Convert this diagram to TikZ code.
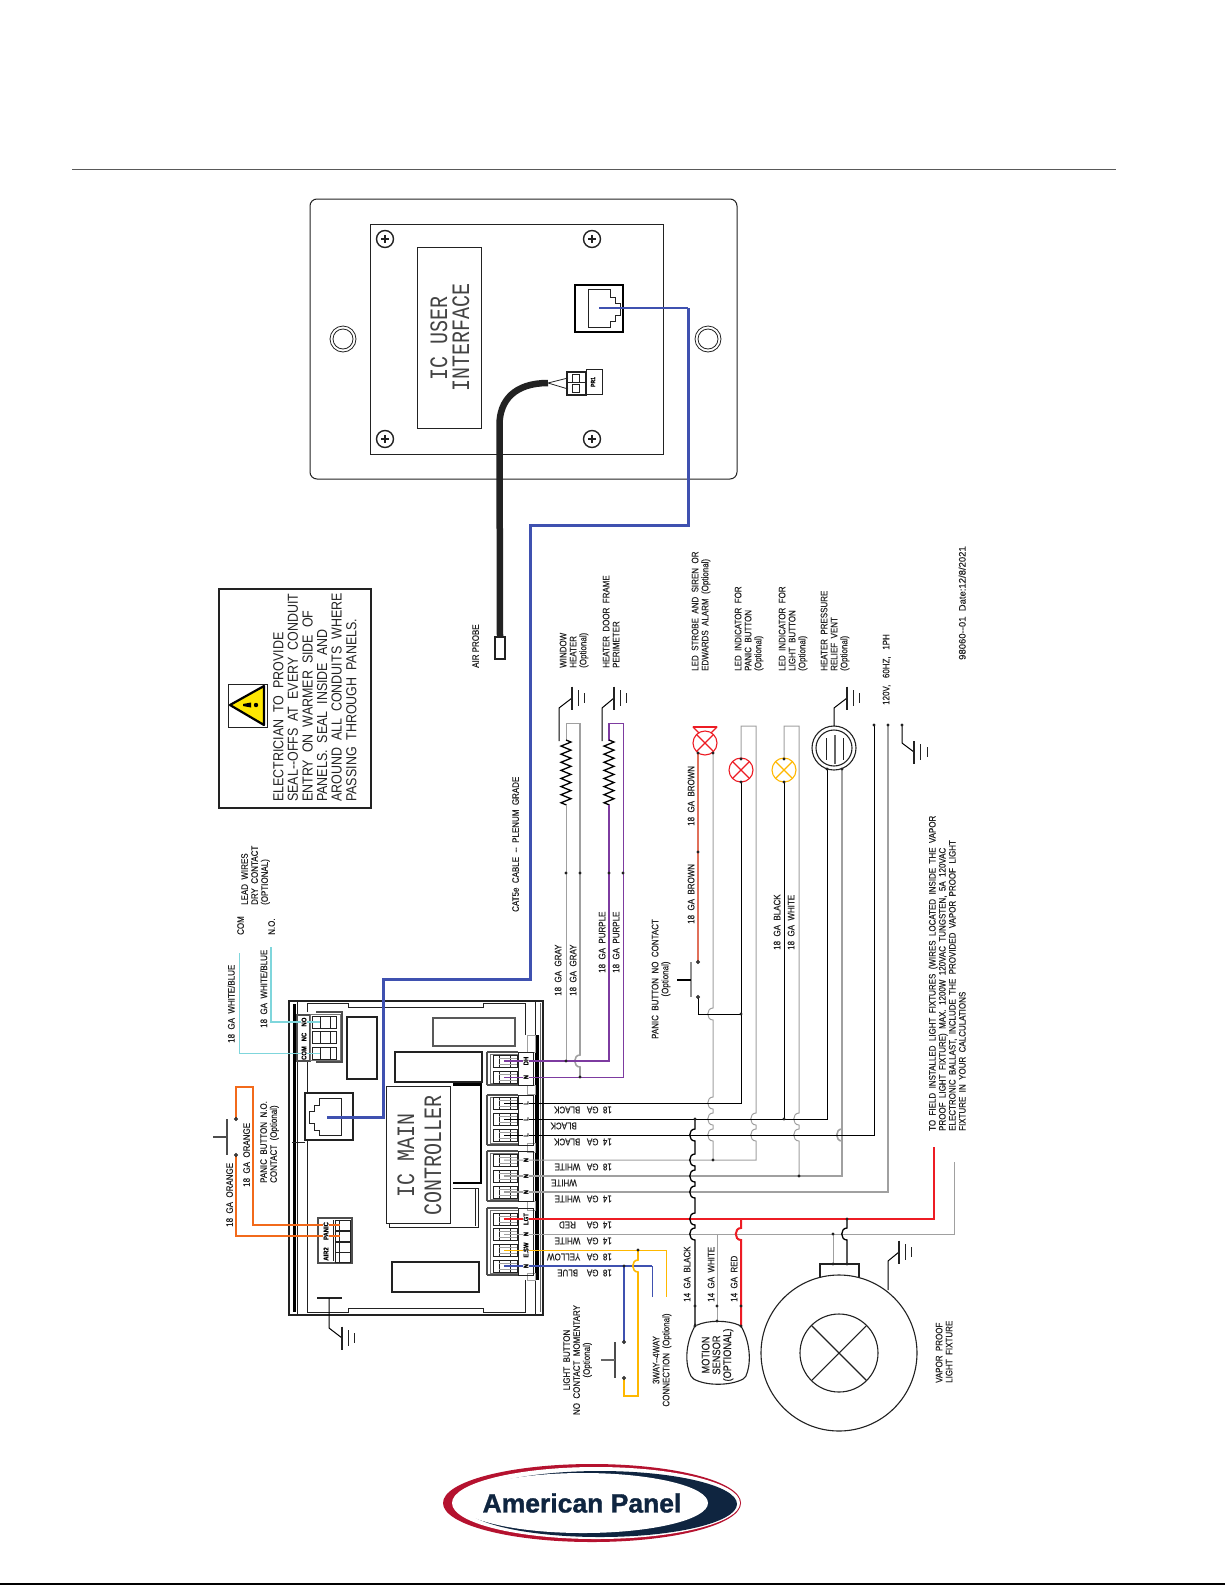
\documentclass[tikz,border=0pt]{standalone}
\usepackage{fontspec}
\setmainfont{Liberation Sans}
\newfontfamily\labf[FakeStretch=0.84,FakeBold=0.25]{Liberation Sans}
\newfontfamily\labw[FakeStretch=1.0,FakeBold=0.25]{Liberation Sans}
\newfontfamily\warnf[FakeStretch=0.86]{Liberation Sans}
\newfontfamily\monof[FakeStretch=0.8]{Liberation Mono}
\newfontfamily\logof[BoldFeatures={FakeBold=1.2}]{Liberation Sans}
\usetikzlibrary{decorations.pathmorphing}
\definecolor{wgray}{HTML}{A0A0A0}
\definecolor{wred}{HTML}{ED1C24}
\definecolor{wyel}{HTML}{FFB800}
\definecolor{wblue}{HTML}{3F51B0}
\definecolor{wpur}{HTML}{7D3BA0}
\definecolor{wbrown}{HTML}{E0705A}
\definecolor{wcyan}{HTML}{7FD6DC}
\definecolor{worg}{HTML}{F26A1B}
\definecolor{lgred}{HTML}{B5122F}
\definecolor{lgnavy}{HTML}{0F2540}
\definecolor{ink}{HTML}{222222}
\tikzset{
  vlab/.style={rotate=90,anchor=north west,inner sep=0pt,align=left,text=ink,font=\labf\fontsize{9.5}{10}\selectfont},
  vlabc/.style={rotate=90,anchor=center,inner sep=0pt,align=center,text=ink,font=\labf\fontsize{9.5}{10}\selectfont},
  ulab/.style={rotate=180,anchor=west,inner sep=0pt,text=ink,font=\labf\fontsize{9.5}{10}\selectfont},
  tlab/.style={rotate=90,anchor=center,inner sep=0.6pt,fill=white,text=black,font=\labf\bfseries\fontsize{7}{7}\selectfont},
  biglab/.style={rotate=90,anchor=center,inner sep=0pt,text=ink!85,font=\monof\fontsize{25}{25}\selectfont},
  warnlab/.style={rotate=90,anchor=north west,inner sep=0pt,align=left,text=ink,font=\warnf\fontsize{14.5}{14.6}\selectfont},
  ln/.style={draw=ink,line width=0.8pt},
  lnb/.style={draw=ink,line width=1.1pt},
  wk/.style={draw=black,line width=1pt},
  wg/.style={draw=wgray,line width=1pt},
  wgt/.style={draw=wgray,line width=1.6pt},
  wkt/.style={draw=black,line width=1.2pt},
  wr/.style={draw=wred,line width=2pt},
  wy/.style={draw=wyel,line width=1pt},
  wyt/.style={draw=wyel,line width=1.6pt},
  wbl/.style={draw=wblue,line width=1.9pt},
  wblt/.style={draw=wblue,line width=1pt},
  wp/.style={draw=wpur,line width=1.9pt},
  wpt/.style={draw=wpur,line width=1pt},
  wc/.style={draw=wcyan,line width=1pt},
  wo/.style={draw=worg,line width=1.6pt},
  res/.style={draw=black,line width=1.3pt,decorate,decoration={zigzag,amplitude=5pt,segment length=8.1pt}},
  lamp/.style={line width=1.1pt,fill=white},
  dotk/.style={fill=ink},
}
% vertical wire hopping over a horizontal one at height #2
\newcommand\hop[2]{-- (#1,#2-6) .. controls (#1-7,#2-6) and (#1-7,#2+6) .. (#1,#2+6)}
\newcommand\gnd[2]{%
  \draw[lnb] (#1,#2-11.5) -- (#1,#2+11.5);
  \draw[ln] (#1+6,#2-8) -- (#1+6,#2+8);
  \draw[ln] (#1+12,#2-5) -- (#1+12,#2+5);}
\newcommand\cellR[1]{%
  \draw[ln] (493,#1-6) rectangle (517,#1+6);
  \draw[ln] (499,#1-6) -- (499,#1+6);
  \draw[ln] (510,#1-6) -- (510,#1+6);
  \draw[draw=wgray,line width=0.6pt] (499,#1-3) -- (517,#1-3);
  \draw[draw=wgray,line width=0.6pt] (499,#1+3) -- (517,#1+3);}
\newcommand\cellL[1]{%
  \draw[ln] (312,#1-6) rectangle (336,#1+6);
  \draw[ln] (320,#1-6) -- (320,#1+6);
  \draw[ln] (330,#1-6) -- (330,#1+6);}
\newcommand\cellP[1]{%
  \draw[ln] (335,#1-5) rectangle (350,#1+5);
  \draw[ln] (339,#1-5) -- (339,#1+5);}
\begin{document}
\begin{tikzpicture}[x=1pt,y=-1pt]
\useasboundingbox (0,0) rectangle (1225,1585);
\fill[white] (0,0) rectangle (1225,1585);
\draw[draw=black!65,line width=1pt] (72,169) -- (1116,169);
\draw[draw=black,line width=1.4pt] (0,1584) -- (1225,1584);

%% ---------- user interface panel
\draw[draw=ink,line width=1pt,rounded corners=7pt] (310,199) rectangle (737,479);
\draw[draw=ink,line width=0.9pt] (370,224) rectangle (663,454);
\foreach \cx in {343,708} {
  \draw[ln] (\cx,339) circle (13);
  \draw[ln] (\cx,339) circle (10);
}
\foreach \cx/\cy in {385/239,592/239,385/439,592/439} {
  \draw[draw=ink,line width=1.4pt] (\cx,\cy) circle (8.5);
  \draw[draw=ink,line width=2.4pt] (\cx-4,\cy) -- (\cx+4,\cy) (\cx,\cy-4) -- (\cx,\cy+4);
}
\draw[draw=ink,line width=0.9pt] (417,247) rectangle (481,428);
\node[biglab] (ifa) at (439,338) {IC USER};
\node[biglab] (ifb) at (461,337) {INTERFACE};
\draw[draw=black,line width=1.8pt] (575,285) rectangle (623,332);
\draw[ln] (588,289) -- (610,289) -- (610,297) -- (615,297) -- (615,303) -- (620,303) -- (620,315) -- (615,315) -- (615,321) -- (610,321) -- (610,327) -- (588,327) -- cycle;
% probe connector
\draw[lnb] (567,372) rectangle (586,395);
\draw[ln] (586,369) rectangle (602,394);
\draw[ln] (572,374) rectangle (579,382);
\draw[ln] (572,384) rectangle (579,392);
\draw[lnb] (567,382.5) -- (586,382.5);
\node[rotate=90,inner sep=0pt,text=black,font=\labf\bfseries\fontsize{6}{6}\selectfont] (pr1) at (593,382) {PR1};
\coordinate (pa) at (568,378);
\coordinate (pb) at (568,389);
\coordinate (cableEnd) at (548,383);
\draw[ln] (cableEnd) -- (pa) (cableEnd) -- (pb);
\coordinate (probeTip) at (500,637);
\draw[draw=ink,line width=6.5pt] (probeTip) -- (499.5,425) .. controls (499.5,400) and (515,383) .. (cableEnd);
\draw[lnb] (495,637) rectangle (505,659);
\node[vlab] (airp) at (472,668) {AIR PROBE};

%% ---------- warning box
\draw[lnb] (219,589) rectangle (371,808);
\draw[ln] (228,684) rectangle (267,727);
\draw[draw=black,line width=2.2pt,fill=yellow!90!orange,line join=round] (230,705) -- (264,686) -- (264,725) -- cycle;
\fill[black] (243,704) -- (251,702.5) -- (251,707.5) -- (243,706) -- cycle;
\fill[black] (256,705) circle (2.2);
\node[warnlab] (warn) at (273,802) {ELECTRICIAN~ TO~ PROVIDE\\SEAL--OFFS~ AT~ EVERY~ CONDUIT\\ENTRY~ ON~ WARMER~ SIDE~ OF\\PANELS.~ SEAL~ INSIDE~ AND\\AROUND~ ALL~ CONDUITS~ WHERE\\PASSING~ THROUGH~ PANELS.};

%% ---------- controller housing
\draw[lnb] (289,1001) rectangle (543,1315);
\draw[lnb] (289,1001) -- (297,1001);
\draw[ln] (297,1001) -- (297,1315);
\draw[draw=black,line width=3.5pt] (294.5,1004) -- (294.5,1312);
\draw[draw=ink,line width=1pt] (292,1142) -- (305,1142);
\draw[ln] (307,1062) -- (307,1093);
\draw[ln] (307,1140) -- (307,1312) -- (348,1312) -- (348,1308) -- (483,1308) -- (483,1312) -- (525,1312) -- (525,1280);
\draw[ln] (307,1012) -- (307,1003) -- (348,1003) -- (348,1007) -- (483,1007) -- (483,1003) -- (525,1003) -- (525,1035);
\draw[draw=black,line width=4.5pt] (537,1035) -- (537,1280);
\draw[ln] (535,1001) -- (535,1035);
\draw[ln] (535,1280) -- (535,1315);
\draw[draw=black!60,line width=0.8pt] (540,1003) -- (540,1312);
\foreach \ya/\yb in {1035/1052,1085/1094,1143/1152,1201/1210,1273/1280}
  {\draw[draw=wgray,line width=0.8pt,fill=white] (527,\ya) rectangle (535,\yb);}
\draw[lnb] (347,1017) rectangle (377,1079);
\draw[draw=black!65,line width=1.3pt] (433,1018) rectangle (515,1046);
\draw[lnb] (395,1052) rectangle (482,1082);
\draw[draw=black,line width=1.2pt] (453,1084) -- (481,1084) -- (481,1183) -- (453,1183);
\draw[draw=black,line width=2pt] (453,1085) -- (480,1085);
\draw[ln] (453,1188) -- (478,1188) -- (478,1227) -- (389,1227) -- (389,1222);
\draw[ln] (475,1189) -- (475,1226);
\draw[lnb] (392,1262) rectangle (479,1292);
\draw[draw=ink,line width=0.9pt,fill=white] (386,1086) rectangle (450,1223);
\node[biglab] (icm) at (406,1155) {IC MAIN};
\node[biglab] (icc) at (433,1155) {CONTROLLER};
% RJ45 socket
\draw[draw=ink,line width=1.3pt] (305,1093) rectangle (353,1140);
\draw[ln] (341,1098) -- (319,1098) -- (319,1105) -- (314,1105) -- (314,1111) -- (309,1111) -- (309,1123) -- (314,1123) -- (314,1130) -- (319,1130) -- (319,1135) -- (341,1135) -- cycle;
% terminal blocks, right side
\foreach \ya/\yb in {1052/1085,1095/1145,1151/1201,1208/1275} {
  \draw[draw=ink!80,line width=1.2pt] (487,\ya) -- (518,\ya) (487,\yb) -- (518,\yb) (487,\ya) -- (487,\yb);
  \draw[draw=black!55,line width=1pt] (490,\ya+2) rectangle (518,\yb-2);
  \draw[ln] (518,\ya) rectangle (533,\yb);
}
\foreach \cy in {1061,1077,1103,1119,1135,1160,1176,1192,1219,1234,1250,1266} {\cellR{\cy}}
% relay block
\draw[draw=ink!80,line width=1.2pt] (297,1015) rectangle (310,1061);
\draw[draw=ink!80,line width=1.2pt] (316,1012) -- (342,1012) -- (342,1062) -- (316,1062) ;
\draw[draw=black!55,line width=1pt] (310,1014) rectangle (340,1060);
\foreach \cy in {1022,1037,1053} {\cellL{\cy}}
% AIR2/PANIC block
\draw[draw=ink!80,line width=1.3pt] (318,1218) -- (352,1218) -- (352,1263) -- (318,1263) -- cycle;
\draw[ln] (333,1220) -- (333,1261);
\foreach \cy in {1225,1236,1247,1257} {\cellP{\cy}}

%% ---------- named terminals and junctions
\foreach \nm/\cy in {tDH/1061,tNa/1077,tLa/1103,tLb/1119,tLc/1135,tNb/1160,tNc/1176,tNd/1192,tLGT/1219,tNe/1234,tSW/1250,tNf/1266}
  {\coordinate (\nm) at (504,\cy);}
\coordinate (jackC) at (327,1117);
\coordinate (jackP) at (599,308);
\coordinate (b1) at (383,979);
\coordinate (b2) at (530,525);
\coordinate (b3) at (688,308);
\draw[draw=wblue,line width=3pt,line join=miter] (jackC) -| (b1) -| (b2) -| (b3);
\draw[draw=wblue,line width=1.4pt] (b3) -- (jackP);

% heaters
\coordinate (wgL) at (566,723);
\coordinate (wgR) at (580,723);
\coordinate (dfL) at (609,723);
\coordinate (dfR) at (623,723);
\draw[wg] (wgR) -- (wgL) -- (566,741);
\draw[res] (566,740) -- (566,805);
\draw[wg] (566,805) -- (566,1061);
\draw[wgt] (wgR) \hop{580}{1061} -- (580,1077);
\draw[wk] (559,741) -- (559,708) -- (572,698);
\gnd{572}{698}
\draw[wp] (dfL) -- (609,741);
\draw[res] (609,740) -- (609,805);
\draw[wp,line join=miter] (tDH) -| (609,805);
\draw[wpt] (dfL) -- (dfR) |- (tNa);
\draw[wk] (602,741) -- (602,708) -- (614,698);
\gnd{614}{698}

% siren + panic button
\coordinate (sirA) at (698,753);
\coordinate (sirB) at (713,753);
\coordinate (pbA) at (698,962);
\coordinate (pbB) at (698,997);
\coordinate (panJ) at (741,1014);
\draw[draw=wbrown,line width=1.6pt] (sirA) -- (pbA);
\draw[wg] (sirB) \hop{713}{1014} \hop{713}{1103} \hop{713}{1119} \hop{713}{1135} -- (713,1160);
\draw[wk] (pbB) |- (panJ);
\draw[draw=wgray!90!black,line width=1.6pt] (691,962) -- (691,997);
\draw[wkt] (677,980) -- (691,980);
\draw[draw=wred,line width=1.1pt,line join=round] (693,727) -- (717,727) -- (705,739) -- cycle;
\draw[draw=wred,line width=1.8pt] (693,727) -- (717,727);
\draw[lamp,draw=wred] (705,743) circle (12);
\draw[draw=wred,line width=1.1pt] (696.5,734.5) -- (713.5,751.5) (713.5,734.5) -- (696.5,751.5);

% panic LED
\coordinate (ledPa) at (741,759);
\coordinate (ledPb) at (741,782);
\draw[wk] (ledPb) |- (tLa);
\draw[wg] (ledPa) -- (741,726) -- (756,726) \hop{756}{1119} \hop{756}{1135} -- (756,1160) -- (tNb);
\draw[lamp,draw=wred] (741,770) circle (12);
\draw[draw=wred,line width=1.1pt] (732.5,761.5) -- (749.5,778.5) (749.5,761.5) -- (732.5,778.5);

% light LED
\coordinate (ledLa) at (784,759);
\coordinate (ledLb) at (784,782);
\draw[wk] (ledLb) -- (784,1119);
\draw[wg] (ledLa) -- (784,726) -- (799,726) \hop{799}{1119} \hop{799}{1135} -- (799,1176);
\draw[lamp,draw=wyel] (784,770) circle (12);
\draw[draw=wyel,line width=1.1pt] (775.5,761.5) -- (792.5,778.5) (792.5,761.5) -- (775.5,778.5);

% vent
\coordinate (vA) at (827,769);
\coordinate (vB) at (842,769);
\draw[wk] (tLb) -| (vA);
\draw[wgt] (tNc) -- (842,1176) \hop{842}{1135} -- (vB);
\draw[lnb,fill=white] (834,748) circle (22);
\draw[lnb] (834,748) circle (18);
\draw[ln] (826,738) -- (826,760) (843,738) -- (843,760);
\draw[draw=black!60,line width=1.6pt] (835,735) -- (835,764);
\draw[wk] (834,726) -- (834,708) -- (847,698);
\gnd{847}{698}

% power
\coordinate (pwL) at (874,725);
\coordinate (pwN) at (888,725);
\coordinate (pwG) at (902,725);
\draw[wk] (tLc) -| (pwL);
\draw[wgt,line width=1.3pt] (tNd) -| (pwN);
\draw[wk] (pwG) -- (902,743) -- (914,752);
\draw[lnb] (914,741) -- (914,764);
\draw[ln] (920,744) -- (920,760);
\draw[ln] (927,747) -- (927,757);

% lower wires
\coordinate (redEnd) at (934,1147);
\coordinate (grayEnd) at (954,1162);
\draw[wg] (tNe) -| (grayEnd);
\draw[wr,line join=miter] (tLGT) -| (redEnd);
\draw[wk,line width=1.3pt] (695,1119) \hop{695}{1135} \hop{695}{1160} \hop{695}{1176} \hop{695}{1192} \hop{695}{1219} \hop{695}{1234} -- (695,1326);
\draw[wg] (717,1234) -- (717,1321);
\draw[wr] (741,1219) \hop{741}{1234} -- (741,1326);
\draw[wg] (833,1234) -- (833,1264);
\draw[wk,line width=1.3pt] (847,1219) \hop{847}{1234} -- (847,1264);
\draw[wy] (tSW) -| (666,1297);
\draw[wblt] (652,1297) -- (652,1266);
\draw[wbl] (tNf) -- (652,1266);
\draw[wyt] (638,1250) \hop{638}{1266} -- (638,1396) -- (624,1396) -- (624,1378);
\draw[wbl] (624,1266) -- (624,1342);
\draw[draw=black!70,line width=1.2pt] (615,1342) -- (615,1378);
\draw[draw=black!60,line width=1.2pt] (601,1360) -- (615,1360);

% upper-left wires
\coordinate (tNO) at (320,1022);
\coordinate (tCOM) at (320,1053);
\coordinate (cyA) at (271,947);
\coordinate (cyB) at (239,953);
\draw[wc] (cyB) |- (tCOM);
\draw[wc,line width=1.1pt] (cyA) |- (tNO);
\coordinate (pnA) at (236,1119);
\coordinate (pnB) at (236,1155);
\coordinate (tPa) at (340,1225);
\coordinate (tPb) at (340,1236);
\draw[wo,line join=miter] (pnA) -- (236,1087) -- (253,1087) |- (tPa);
\draw[wo,line width=1.3pt] (pnB) |- (tPb);
\draw[draw=black!70,line width=1.2pt] (227,1119) -- (227,1155);
\draw[draw=black!70,line width=1.1pt] (213,1137) -- (227,1137);

% controller ground
\draw[draw=ink,line width=2pt] (317,1298) -- (342,1298);
\draw[wk] (329,1298) -- (329,1328) -- (342,1338);
\gnd{342}{1338}

%% ---------- motion sensor + fixture
\draw[lnb,line join=round,rounded corners=2pt] (695,1326) .. controls (708,1320) and (728,1320) .. (741,1326) .. controls (751,1345) and (751,1365) .. (745,1378) .. controls (730,1386) and (706,1386) .. (692,1378) .. controls (685,1365) and (685,1345) .. cycle;
\node[vlabc,font=\labf\fontsize{11}{10.8}\selectfont] (mot) at (717.5,1355) {MOTION\\SENSOR\\(OPTIONAL)};
\draw[lnb] (820,1280) -- (820,1264) -- (859,1264) -- (859,1280);
\draw[lnb,fill=white] (839,1353) circle (78);
\draw[lnb] (839,1353) circle (39);
\draw[lnb] (811.4,1325.4) -- (866.6,1380.6) (866.6,1325.4) -- (811.4,1380.6);
\draw[wk] (888,1290) -- (888,1261) -- (899,1252);
\gnd{899}{1252}

%% ---------- junction dots
\foreach \p in {{566,873},{580,873},{609,873},{623,873},{566,1061},{580,1077},{698,753},{713,753},{698,852},{713,1160},{741,1014},{741,759},{741,782},{784,759},{784,782},{784,1119},{827,769},{842,769},{799,1176},{874,725},{888,725},{902,725},{695,1119},{695,1306},{695,1326},{717,1306},{717,1321},{741,1306},{741,1326},{833,1234},{847,1219},{833,1264},{847,1264},{638,1250},{624,1266}}
  {\fill[dotk] (\p) circle (1.7);}
\foreach \p in {{698,962},{698,997},{624,1342},{624,1378},{236,1119},{236,1155}}
  {\draw[draw=ink,line width=0.8pt,fill=ink!60] (\p) circle (1.5);}

%% ---------- terminal labels
\node[tlab] (a1) at (526,1061) {DH};
\node[tlab] (a2) at (526,1077) {N};
\node[tlab] (a3) at (526,1103) {L};
\node[tlab] (a4) at (526,1119) {L};
\node[tlab] (a5) at (526,1135) {L};
\node[tlab] (a6) at (526,1160) {N};
\node[tlab] (a7) at (526,1176) {N};
\node[tlab] (a8) at (526,1192) {N};
\node[tlab] (a9) at (526,1219) {LGT};
\node[tlab] (a10) at (526,1234) {N};
\node[tlab] (a11) at (526,1250) {E.SW};
\node[tlab] (a12) at (526,1266) {N};
\node[tlab] (a13) at (304,1022) {NO};
\node[tlab] (a14) at (304,1037) {NC};
\node[tlab] (a15) at (304,1053) {COM};
\node[tlab] (a16) at (326,1231) {PANIC};
\node[tlab] (a17) at (326,1254) {AIR2};

%% ---------- upside-down wire labels
\node[ulab] (u1) at (612,1110) {18~~GA~~~BLACK};
\node[ulab] (u2) at (577,1126) {BLACK};
\node[ulab] (u3) at (612,1142) {14~~GA~~~BLACK};
\node[ulab] (u4) at (612,1167) {18~~GA~~~WHITE};
\node[ulab] (u5) at (577,1183) {WHITE};
\node[ulab] (u6) at (612,1199) {14~~GA~~~WHITE};
\node[ulab] (u7) at (612,1225) {14~~GA~~~~~RED};
\node[ulab] (u8) at (612,1241) {14~~GA~~~WHITE};
\node[ulab] (u9) at (612,1257) {18~~GA~~~YELLOW};
\node[ulab] (u10) at (612,1273) {18~~GA~~~~BLUE};

%% ---------- vertical labels: (left edge, bottom edge)
\node[vlab] (v1) at (227.5,1043) {18~~GA~~WHITE/BLUE};
\node[vlab] (v2) at (260,1028) {18~~GA~~WHITE/BLUE};
\node[vlab] (v3) at (237,935) {COM};
\node[vlab] (v4) at (268,935) {N.O.};
\node[vlab] (v5) at (241,905) {LEAD~ WIRES\\DRY~ CONTACT\\(OPTIONAL)};
\node[vlab] (v6) at (226,1227) {18~~GA~~ORANGE};
\node[vlab] (v7) at (243,1187) {18~~GA~~ORANGE};
\node[vlab] (v8) at (260,1183) {PANIC~ BUTTON~ N.O.\\CONTACT~ (Optional)};
\node[vlab] (v9) at (512,912) {CAT5e~ CABLE~ --~ PLENUM~ GRADE};
\node[vlab] (v10) at (554.5,996) {18~~GA~~GRAY};
\node[vlab] (v11) at (569.5,996) {18~~GA~~GRAY};
\node[vlab] (v12) at (598.5,973) {18~~GA~~PURPLE};
\node[vlab] (v13) at (612.5,973) {18~~GA~~PURPLE};
\node[vlabc] (v14) at (661,979) {PANIC~ BUTTON~ NO~ CONTACT\\(Optional)};
\node[vlab] (v15) at (687.5,924) {18~~GA~~BROWN};
\node[vlab] (v16) at (687.5,826) {18~~GA~~BROWN};
\node[vlab] (v17) at (773.5,950) {18~~GA~~BLACK};
\node[vlab] (v18) at (787.5,950) {18~~GA~~WHITE};
\node[vlab] (v19) at (559.5,668) {WINDOW\\HEATER\\(Optional)};
\node[vlab] (v20) at (602.5,668) {HEATER~ DOOR~ FRAME\\PERIMETER};
\node[vlab] (v21) at (691.5,671) {LED~ STROBE~ AND~ SIREN~ OR\\EDWARDS~ ALARM~ (Optional)};
\node[vlab] (v22) at (734.5,671) {LED~ INDICATOR~ FOR\\PANIC~ BUTTON\\(Optional)};
\node[vlab] (v23) at (778.5,671) {LED~ INDICATOR~ FOR\\LIGHT~ BUTTON\\(Optional)};
\node[vlab] (v24) at (820.5,671) {HEATER~ PRESSURE\\RELIEF~ VENT\\(Optional)};
\node[vlab] (v25) at (882.5,705) {120V,~~ 60HZ,~~ 1PH};
\node[vlab,font=\labw\fontsize{9.5}{10}\selectfont] (v26) at (958.5,660) {98060--01~ Date:12/8/2021};
\node[vlab] (v27) at (928.5,1131) {TO~ FIELD~ INSTALLED~ LIGHT~ FIXTURES~ (WIRES~ LOCATED~ INSIDE~ THE~ VAPOR\\PROOF~ LIGHT~ FIXTURE)~ MAX.~ 1200W~ 120VAC~ TUNGSTEN,~ 5A~ 120VAC\\ELECTRONIC~ BALLAST,~ INCLUDE~ THE~ PROVIDED~ VAPOR~ PROOF~ LIGHT\\FIXTURE~ IN~ YOUR~ CALCULATIONS};
\node[vlab] (v28) at (683.5,1302) {14~~GA~~BLACK};
\node[vlab] (v29) at (707.5,1302) {14~~GA~~WHITE};
\node[vlab] (v30) at (730.5,1302) {14~~GA~~RED};
\node[vlabc] (v31) at (577.5,1360) {LIGHT~ BUTTON\\NO~ CONTACT~ MOMENTARY\\(Optional)};
\node[vlabc] (v32) at (662,1360) {3WAY--4WAY\\CONNECTION~ (Optional)};
\node[vlab] (v33) at (935.5,1383) {VAPOR~ PROOF\\LIGHT~ FIXTURE};

%% ---------- logo
\fill[lgred] (592,1503) ellipse (149 and 39);
\fill[white] (596,1503) ellipse (144 and 36);
\fill[lgnavy] (600,1504) ellipse (137 and 33);
\fill[white] (583,1503) ellipse (125 and 30);
\node[inner sep=0pt,text=lgnavy,font=\logof\bfseries\fontsize{26.5}{27}\selectfont] (logo) at (582,1503) {American Panel};
\end{tikzpicture}
\end{document}
